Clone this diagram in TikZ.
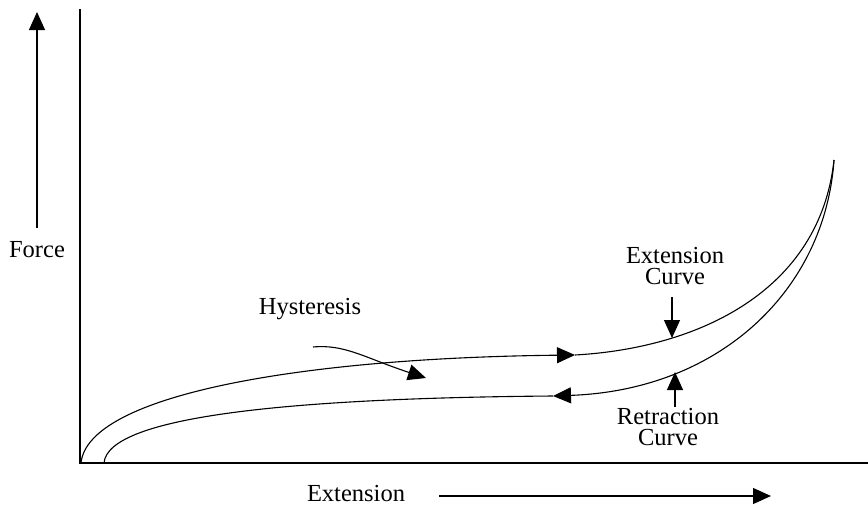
\documentclass[tikz,border=0pt]{standalone}
\usepackage{fontspec}
\setmainfont{Liberation Serif}
\usetikzlibrary{arrows.meta}
\begin{document}
\begin{tikzpicture}[x=1pt,y=-1pt,
  lbl/.style={font=\fontsize{24.5}{21}\selectfont, align=center, inner sep=0pt},
  ln/.style={line width=1.1pt, black},
  tip/.style={-{Triangle[length=18pt,width=16pt]}}]
\useasboundingbox (0,0) rectangle (868,507);
% axes
\coordinate (O) at (80,463);
\coordinate (ytop) at (80,9);
\coordinate (xend) at (868,463);
\draw[ln] (ytop) -- (O) -- (xend);
% axis labels
\node[lbl] (force) at (37,250) {Force};
\coordinate (fa0) at (37,228);
\coordinate (fa1) at (37,12);
\draw[ln,tip] (fa0) -- (fa1);
\node[lbl] (ext) at (356,494) {Extension};
\coordinate (ea0) at (439,496);
\coordinate (ea1) at (771,496);
\draw[ln,tip] (ea0) -- (ea1);
% curves
\coordinate (u0) at (81,463);
\coordinate (um) at (575,355);
\coordinate (top) at (834,160);
\coordinate (lm) at (553,396);
\coordinate (l0) at (104,463);
\draw[ln,tip] (u0) .. controls (88,395) and (300,358) .. (um);
\draw[ln] (um) .. controls (700,348) and (820,290) .. (top);
\draw[ln,tip] (top) .. controls (825,290) and (720,390) .. (lm);
\draw[ln] (lm) .. controls (300,398) and (108,415) .. (l0);
% hysteresis
\node[lbl] (hys) at (310,309) {Hysteresis};
\coordinate (h0) at (313,347);
\coordinate (h1) at (426,378);
\draw[ln,tip] (h0) .. controls (345,344) and (365,358) .. (h1);
% extension curve label
\node[lbl] (ec) at (675,266) {Extension\\Curve};
\coordinate (ec0) at (672,297);
\coordinate (ec1) at (672,338);
\draw[ln,tip] (ec0) -- (ec1);
% retraction curve label
\node[lbl] (rc) at (668,427) {Retraction\\Curve};
\coordinate (rc0) at (675,407);
\coordinate (rc1) at (675,372);
\draw[ln,tip] (rc0) -- (rc1);
\end{tikzpicture}
\end{document}
